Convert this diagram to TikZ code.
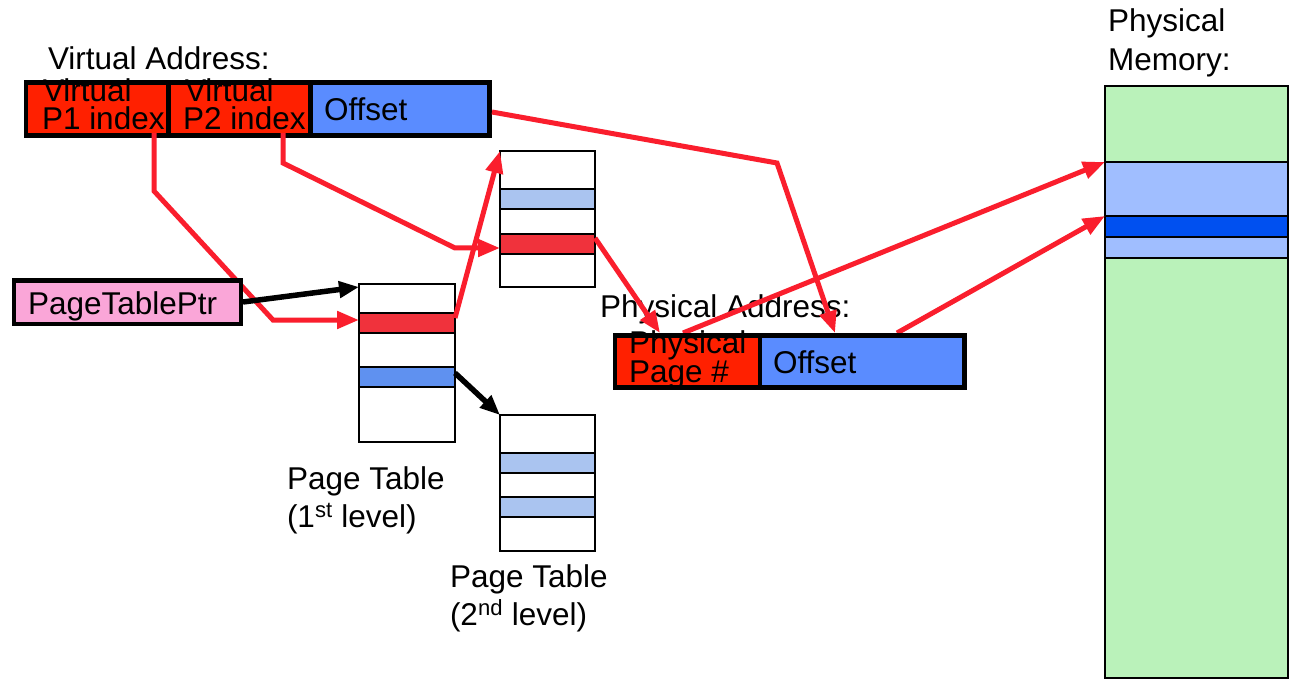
\documentclass[tikz,border=0pt]{standalone}
\usepackage{fontspec}
\setmainfont{Liberation Sans}
\usetikzlibrary{arrows.meta,calc}
\definecolor{fieldred}{RGB}{255,32,0}
\definecolor{fieldblue}{RGB}{90,140,255}
\definecolor{arrowred}{RGB}{250,30,45}
\definecolor{ptrpink}{RGB}{250,166,216}
\definecolor{entryred}{RGB}{240,50,60}
\definecolor{entryblue}{RGB}{95,145,240}
\definecolor{entrylight}{RGB}{170,196,240}
\definecolor{memgreen}{RGB}{186,242,186}
\definecolor{memlight}{RGB}{160,190,255}
\definecolor{memdark}{RGB}{0,80,240}
\begin{document}
\begin{tikzpicture}[x=1pt,y=-1pt,
  fieldbox/.style={anchor=north west, inner sep=0pt, outer sep=0pt},
  lbl/.style={anchor=base west, inner sep=0pt, outer sep=0pt, font=\fontsize{31.5}{28}\selectfont},
  redarrow/.style={draw=arrowred, line width=5pt, -{Triangle[length=22pt,width=17pt]}},
  blackarrow/.style={draw=black, line width=5.5pt, -{Triangle[length=20pt,width=16pt]}},
  ptable/.style={fieldbox, draw=black, line width=1.8pt, fill=white},
  pentry/.style={fieldbox, draw=black, line width=1.8pt}
]
\useasboundingbox (0,0) rectangle (1296,687);
\fill[white] (0,0) rectangle (1296,687);

% ---- page tables ----
\node[ptable, minimum width=96pt, minimum height=158pt] (pt1) at (359,284) {};
\node[pentry, fill=entryred, minimum width=96pt, minimum height=20pt] (e1r) at (359,313) {};
\node[pentry, fill=entryblue, minimum width=96pt, minimum height=20pt] (e1b) at (359,367) {};

\node[ptable, minimum width=95pt, minimum height=136pt] (pt2a) at (500,151) {};
\node[pentry, fill=entrylight, minimum width=95pt, minimum height=20pt] (e2b) at (500,189) {};
\node[pentry, fill=entryred, minimum width=95pt, minimum height=20pt] (e2r) at (500,234) {};

\node[ptable, minimum width=95pt, minimum height=136pt] (pt2b) at (500,415) {};
\node[pentry, fill=entrylight, minimum width=95pt, minimum height=20pt] (e3a) at (500,453) {};
\node[pentry, fill=entrylight, minimum width=95pt, minimum height=20pt] (e3b) at (500,497) {};

\node[lbl] (lab1a) at (287,489) {Page Table};
\node[lbl] (lab1b) at (287,527) {(1\textsuperscript{st} level)};
\node[lbl] (lab2a) at (450,587) {Page Table};
\node[lbl] (lab2b) at (450,625) {(2\textsuperscript{nd} level)};

% ---- physical memory ----
\node[fieldbox, draw=black, line width=1.8pt, fill=memgreen, minimum width=183pt, minimum height=592pt] (mem) at (1105,86) {};
\node[pentry, fill=memlight, minimum width=183pt, minimum height=54pt] (ml1) at (1105,162) {};
\node[pentry, fill=memdark, minimum width=183pt, minimum height=21pt] (md) at (1105,216) {};
\node[pentry, fill=memlight, minimum width=183pt, minimum height=21pt] (ml2) at (1105,237) {};
\node[lbl] (memlab1) at (1108,32) {Physical};
\node[lbl] (memlab2) at (1108,71) {Memory:};

% ---- virtual address bar fields ----
\node[fieldbox, fill=black, minimum width=468pt, minimum height=58pt] (va) at (24,80) {};
\node[fieldbox, fill=fieldred, minimum width=138pt, minimum height=48pt] (p1) at (28,85) {};
\node[fieldbox, fill=fieldred, minimum width=137pt, minimum height=48pt] (p2) at (171,85) {};
\node[fieldbox, fill=fieldblue, minimum width=174pt, minimum height=48pt] (vo) at (313,85) {};

% ---- physical address label ----
\node[lbl] (palab) at (600,317) {Physical Address:};

% ---- bend points ----
\coordinate (b1) at (154,191);
\coordinate (b2) at (273,320);
\coordinate (b3) at (283,163);
\coordinate (b4) at (455,248);
\coordinate (b5) at (777,163);

% arrow 1 (behind the PageTablePtr box)
\draw[redarrow] ([xshift=57pt]p1.south) -- (b1) -- (b2) -- ([yshift=3pt]e1r.west);

% ---- PageTablePtr ----
\node[fieldbox, fill=black, minimum width=231pt, minimum height=48pt] (ptr) at (12,278) {};
\node[fieldbox, fill=ptrpink, minimum width=223pt, minimum height=39pt] (ptrin) at (16,283) {};
\node[lbl] (ptrlab) at (28,314) {PageTablePtr};

% ---- other connectors ----
\draw[redarrow] ([xshift=43.5pt]p2.south) -- (b3) -- (b4) -- ([yshift=-4pt]e2r.west);
\draw[redarrow] ([yshift=5pt]e1r.east) -- (pt2a.north west);
\draw[blackarrow] (ptr.east) -- ([yshift=-3pt]pt1.north west);
\draw[blackarrow] ([yshift=4pt]e1b.east) -- (pt2b.north west);

% ---- physical address bar ----
\node[fieldbox, minimum width=354pt, minimum height=57pt] (pa) at (613,333) {};
\draw[redarrow] ([xshift=-107pt]pa.north) -- (ml1.north west);
\draw[redarrow] ([xshift=107pt]pa.north) -- (md.north west);
\fill[black] (pa.north west) rectangle (pa.south east);
\node[fieldbox, fill=fieldred, minimum width=141pt, minimum height=47pt] (pp) at (617,338) {};
\node[fieldbox, fill=fieldblue, minimum width=200pt, minimum height=47pt] (po) at (762,338) {};
\node[lbl] (pptxt1) at (629,353) {Physical};
\node[lbl] (pptxt2) at (629,382) {Page \#};
\node[lbl] (potxt) at (773,373) {Offset};

% ---- virtual address texts ----
\node[lbl] (valab) at (48,70) {Virtual Address:};
\node[lbl] (p1txt1) at (43,102) {Virtual};
\node[lbl] (p1txt2) at (42,130) {P1 index};
\node[lbl] (p2txt1) at (185,102) {Virtual};
\node[lbl] (p2txt2) at (183,130) {P2 index};
\node[lbl] (votxt) at (324,121) {Offset};

% arrows into the physical address
\draw[redarrow] ([yshift=6pt]e2r.east) -- ([xshift=-130pt]pa.north);
\draw[redarrow] ([yshift=-3pt]va.east) -- (b5) -- ([xshift=45pt]pa.north);
\end{tikzpicture}
\end{document}
